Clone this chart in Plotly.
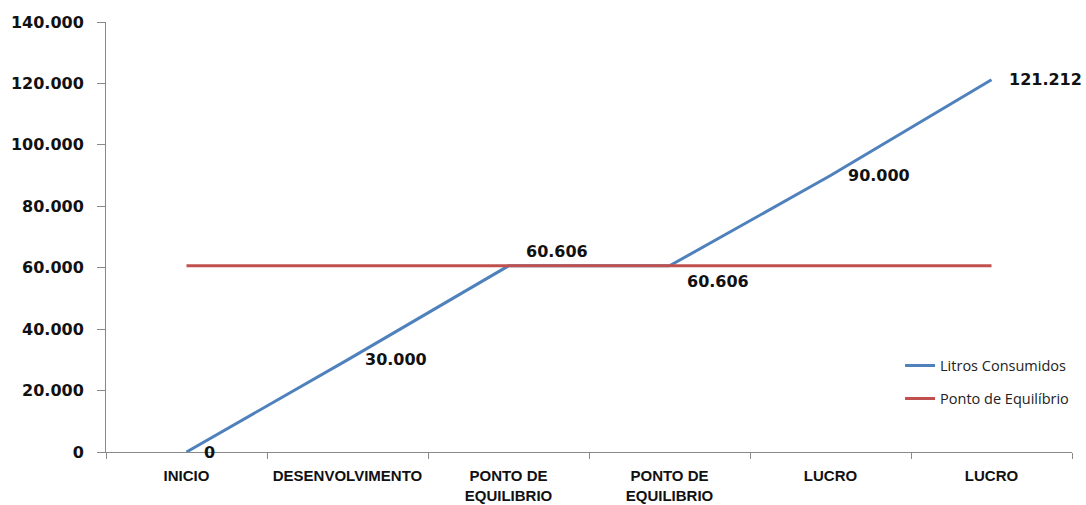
import plotly.graph_objects as go

categories = ["INICIO", "DESENVOLVIMENTO", "PONTO DE<br>EQUILIBRIO", "PONTO DE<br>EQUILIBRIO", "LUCRO", "LUCRO"]
litros = [0, 30000, 60606, 60606, 90000, 121212]
equilibrio = [60606, 60606, 60606, 60606, 60606, 60606]
label_dy = [0, 0, 14, -16, 0, 0]
y_ticks = [0, 20000, 40000, 60000, 80000, 100000, 120000, 140000]

x = list(range(len(categories)))

def fmt(v):
    return f"{v:,}".replace(",", ".")

fig = go.Figure()
fig.add_trace(go.Scatter(x=x, y=litros, mode="lines", name="Litros Consumidos",
                         line=dict(color="#4F81BD", width=3), legendgroup="a"))
fig.add_trace(go.Scatter(x=x, y=equilibrio, mode="lines", name="Ponto de Equilíbrio",
                         line=dict(color="#C0504D", width=3), legendgroup="b"))

for xi, v, dy in zip(x, litros, label_dy):
    fig.add_annotation(x=xi, y=v, text=fmt(v), showarrow=False, xanchor="left",
                       yanchor="middle", xshift=15, yshift=dy,
                       font=dict(family="DejaVu Sans", size=16, color="#111111", weight="bold"))

fig.update_layout(
    width=1086, height=505,
    margin=dict(l=106, r=14, t=22, b=53),
    plot_bgcolor="white", paper_bgcolor="white",
    separators=",.",
    showlegend=True,
    legend=dict(x=0.822, y=0.238, xanchor="left", yanchor="top",
                font=dict(family="Open Sans", size=14.5, color="#222222"),
                tracegroupgap=11, bgcolor="rgba(0,0,0,0)"),
    xaxis=dict(range=[-0.5, 5.5], tickvals=x, ticktext=categories, ticks="",
               showline=True, linecolor="#898989", linewidth=1, showgrid=False, zeroline=False,
               automargin=False,
               tickfont=dict(family="Liberation Sans Narrow, Liberation Sans, Arial", size=15, color="#111111", weight="bold"),
               ticklabelstandoff=10,
               minor=dict(tickvals=[i - 0.5 for i in range(len(categories) + 1)], ticks="outside",
                          ticklen=6, tickcolor="#898989", showgrid=False)),
    yaxis=dict(range=[0, 140000], tickvals=y_ticks, tickformat=",d", ticks="outside",
               ticklen=8, tickcolor="#898989", showline=True, linecolor="#898989", linewidth=1,
               showgrid=False, zeroline=False, ticklabelstandoff=10, automargin=False,
               tickfont=dict(family="DejaVu Sans", size=16, color="#111111", weight="bold")),
)

fig.write_html("out.html")
